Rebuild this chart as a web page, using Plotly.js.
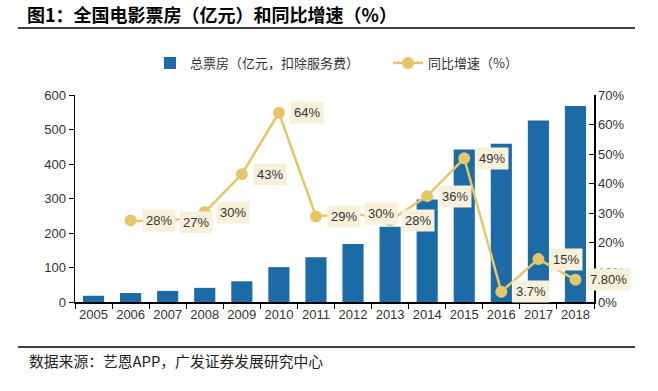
<!DOCTYPE html>
<html>
<head>
<meta charset="utf-8">
<script src="https://cdn.plot.ly/plotly-3.0.1.min.js"></script>
<style>html,body{margin:0;padding:0;background:#fff;}#chart{width:658px;height:391px;}</style>
</head>
<body>
<div id="chart"></div>
<script>
// Data
const years = ["2005","2006","2007","2008","2009","2010","2011","2012","2013","2014","2015","2016","2017","2018"];
const boxOffice = [18, 26, 32, 41, 60, 101, 130, 168, 218, 297, 442, 459, 526, 568];
const growth = [null, 27.6, 27, 30.4, 43.2, 64, 28.9, 30, 27.6, 35.8, 48.6, 3.5, 14.5, 7.5];
const growthLabels = ["", "28%", "27%", "30%", "43%", "64%", "29%", "30%", "28%", "36%", "49%", "3.7%", "15%", "7.80%"];
const seriesNames = ["总票房（亿元，扣除服务费）", "同比增速（%）"];
const titleText = "图1：全国电影票房（亿元）和同比增速（%）";
const sourceText = "数据来源：艺恩APP，广发证券发展研究中心";

const CJK = '"Noto Sans CJK SC", "Liberation Sans", Arial, sans-serif';
const NUM = '"Liberation Sans", Arial, sans-serif';

const barTrace = {
  type: 'bar', x: years, y: boxOffice, name: seriesNames[0],
  marker: {color: '#1C6AA6'}, hoverinfo: 'skip'
};
const lineTrace = {
  type: 'scatter', mode: 'lines+markers', x: years, y: growth, name: seriesNames[1],
  yaxis: 'y2', line: {color: '#E6C66A', width: 2.5},
  marker: {color: '#E6C66A', size: 12}, hoverinfo: 'skip'
};

const annotations = [];
years.forEach((yr, i) => {
  if (growth[i] === null) return;
  annotations.push({
    x: i, y: growth[i], xref: 'x', yref: 'y2', text: growthLabels[i],
    showarrow: false, xanchor: 'left', yanchor: 'middle', xshift: 11,
    bgcolor: '#F7F0DB', borderpad: 3,
    font: {family: NUM, size: 13, color: '#333'}
  });
});
annotations.push({
  x: -0.0925, y: -0.285, xref: 'paper', yref: 'paper', text: sourceText,
  showarrow: false, xanchor: 'left', yanchor: 'middle',
  font: {family: CJK, size: 14.8, color: '#222'}
});

const layout = {
  width: 658, height: 391,
  margin: {l: 75, r: 64, t: 95, b: 89, autoexpand: false},
  paper_bgcolor: '#fff', plot_bgcolor: '#fff',
  title: {
    text: '<b>' + titleText + '</b>', xref: 'container', yref: 'container',
    x: 27/658, xanchor: 'left', y: 1 - 16/391, yanchor: 'middle',
    font: {family: CJK, size: 18, color: '#000'}
  },
  bargap: 0.43,
  showlegend: true,
  legend: {
    orientation: 'h', xref: 'container', x: 150/658, xanchor: 'left',
    yref: 'container', y: 1 - 48/391, yanchor: 'top',
    entrywidth: 193, entrywidthmode: 'pixels',
    font: {family: CJK, size: 13, color: '#333'}, bgcolor: 'rgba(0,0,0,0)'
  },
  xaxis: {
    type: 'category', range: [-0.5, years.length - 0.5],
    showline: true, linecolor: '#000', linewidth: 1.5,
    ticks: 'outside', tickson: 'boundaries', ticklen: 5, tickcolor: '#000',
    showgrid: false, zeroline: false, tickangle: 0,
    tickfont: {family: NUM, size: 13, color: '#333'}
  },
  yaxis: {
    range: [0, 600], dtick: 100, showline: true, linecolor: '#000', linewidth: 1.5,
    ticks: 'outside', ticklen: 5, tickcolor: '#000', showgrid: false, zeroline: false,
    tickfont: {family: NUM, size: 13, color: '#333'}
  },
  yaxis2: {
    range: [0, 70], dtick: 10, ticksuffix: '%', overlaying: 'y', side: 'right',
    showline: true, linecolor: '#000', linewidth: 1.5,
    ticks: 'inside', ticklen: 5, tickcolor: '#000', showgrid: false, zeroline: false,
    tickfont: {family: NUM, size: 13, color: '#333'}
  },
  shapes: [
    {type: 'line', xref: 'paper', yref: 'paper', x0: -0.11, x1: 1.079, y0: 1.3237, y1: 1.3237, line: {color: '#000', width: 1.5}},
    {type: 'line', xref: 'paper', yref: 'paper', x0: -0.11, x1: 1.079, y0: -0.2174, y1: -0.2174, line: {color: '#000', width: 1.5}}
  ],
  annotations: annotations
};

Plotly.newPlot('chart', [barTrace, lineTrace], layout, {displayModeBar: false, staticPlot: true});
</script>
</body>
</html>
